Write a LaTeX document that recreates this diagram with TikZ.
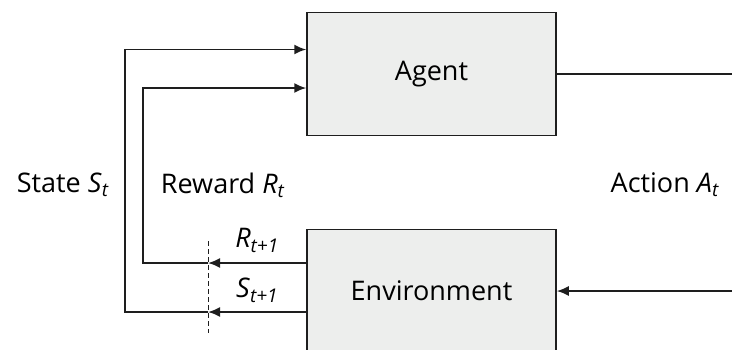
\documentclass[tikz,border=0pt]{standalone}
\usepackage{fontspec}
\setmainfont{Open Sans}
\usetikzlibrary{arrows.meta,positioning}

\newcommand{\rlvar}[2]{\textit{#1}\textsubscript{\textit{#2}}}

\definecolor{boxgray}{HTML}{EDEEED}
\definecolor{linegray}{HTML}{1E1E1E}

\tikzset {
    block/.style={rectangle, draw=linegray, fill=boxgray, line width=1.5pt, minimum width=249pt, minimum height=123pt, font=\fontsize{27}{32}\selectfont},
    lbl/.style={inner sep=0pt, font=\fontsize{27}{32}\selectfont},
    wire/.style={draw=linegray, line width=1.8pt},
}

\begin{document}
\begin{tikzpicture}[x=1pt, y=-1pt, >={Latex[length=12pt,width=10pt]}]
    \useasboundingbox (0, 0) rectangle (732, 349);
    \clip (0, 0) rectangle (732, 349);
    % boxes
    \node (agent) at (431.5, 74) [block] {Agent};
    \node (env) at (431.5, 291) [block] {Environment};
    % action
    \coordinate (actout) at (733, 74);
    \coordinate (actin) at (733, 291);
    \draw [wire] (agent.east) -- (actout);
    \draw [wire, ->] (actin) -- (env.east);
    % cut line
    \coordinate (cuttop) at (208, 241);
    \coordinate (cutbot) at (208, 333);
    \draw [wire, line width=1pt, dashed, dash pattern=on 5pt off 3pt] (cuttop) -- (cutbot);
    % reward and state back to agent
    \coordinate (rcut) at (208, 263);
    \coordinate (scut) at (208, 312);
    \draw [wire, ->] (env.west |- rcut) -- (rcut);
    \draw [wire, ->] (env.west |- scut) -- (scut);
    \coordinate (rcorner) at (143, 263);
    \coordinate (scorner) at (125, 312);
    \draw [wire, ->] (rcut) -- (rcorner) |- ([yshift=-14pt]agent.west);
    \draw [wire, ->] (scut) -- (scorner) |- ([yshift=24.5pt]agent.west);
    % labels
    \node (state) at (63, 185) [lbl] {State \rlvar{S}{t}};
    \node (reward) at (223, 185) [lbl] {Reward \rlvar{R}{t}};
    \node (action) at (665, 185) [lbl] {Action \rlvar{A}{t}};
    \node (rnext) at (257, 240) [lbl] {\rlvar{R}{t+1}};
    \node (snext) at (257, 290) [lbl] {\rlvar{S}{t+1}};
\end{tikzpicture}
\end{document}
